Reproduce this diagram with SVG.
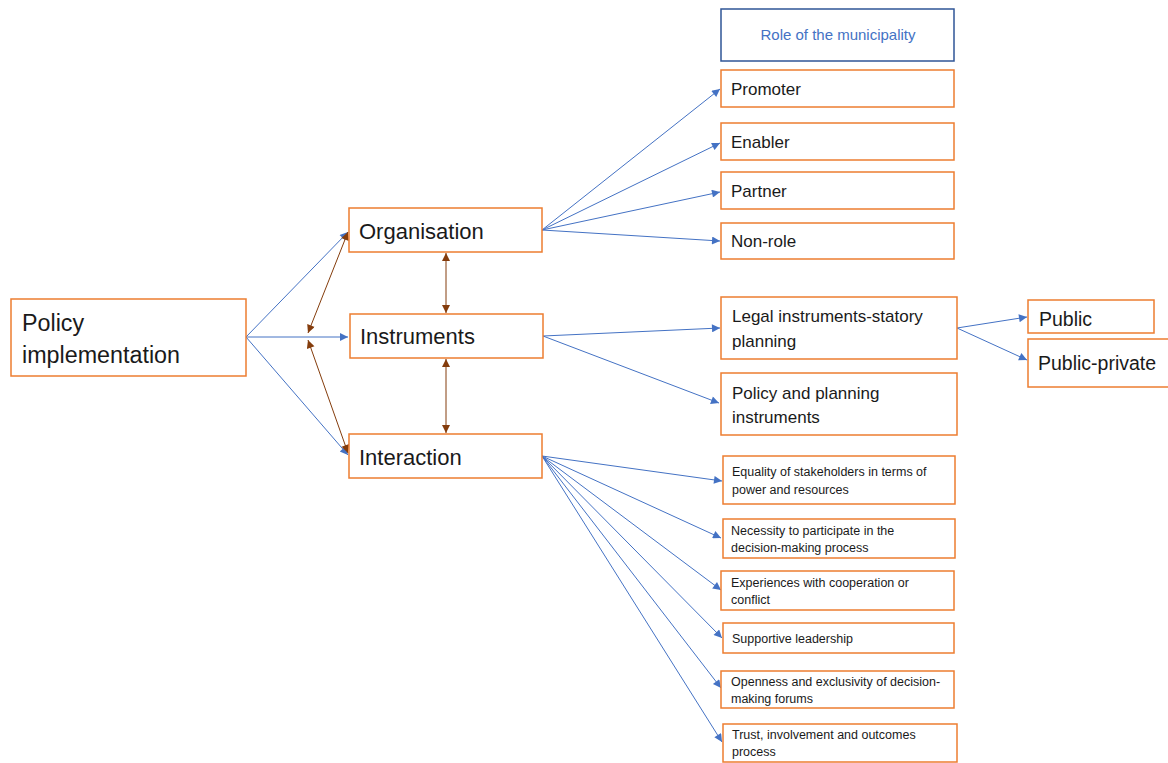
<svg xmlns="http://www.w3.org/2000/svg" width="1168" height="763" viewBox="0 0 1168 763">
<style>
.box{fill:#fff;stroke:#ED7D31;stroke-width:1.5}
.rbox{fill:#fff;stroke:#2F5597;stroke-width:1.5}
.t{font-family:"Liberation Sans",Arial,sans-serif;fill:#1a1a1a}
.L{font-size:22px}
.M{font-size:17px}
.P{font-size:19.5px}
.S{font-size:12.5px}
.blue{stroke:#4472C4;stroke-width:1;fill:none;marker-end:url(#ab)}
.brown{stroke:#843C0C;stroke-width:1;fill:none;marker-start:url(#ar);marker-end:url(#ar)}
</style>
<defs>
<marker id="ab" viewBox="0 0 10 10" refX="10" refY="5" markerWidth="10" markerHeight="8" markerUnits="userSpaceOnUse" orient="auto"><path d="M0,0 L10,5 L0,10 z" fill="#4472C4"/></marker>
<marker id="ar" viewBox="0 0 10 10" refX="10" refY="5" markerWidth="10" markerHeight="8" markerUnits="userSpaceOnUse" orient="auto-start-reverse"><path d="M0,0 L10,5 L0,10 z" fill="#843C0C"/></marker>
</defs>
<rect width="1168" height="763" fill="#fff"/>
<g id="connectors">
<line class="blue" x1="246" y1="337" x2="348" y2="232"/>
<line class="blue" x1="246" y1="337" x2="348" y2="337"/>
<line class="blue" x1="246" y1="337" x2="348" y2="455"/>
<line class="brown" x1="308" y1="333" x2="348" y2="232"/>
<line class="brown" x1="308" y1="340" x2="348" y2="453"/>
<line class="brown" x1="446" y1="253" x2="446" y2="313"/>
<line class="brown" x1="446" y1="359" x2="446" y2="433"/>
<line class="blue" x1="542" y1="230" x2="720" y2="89"/>
<line class="blue" x1="542" y1="230" x2="720" y2="143"/>
<line class="blue" x1="542" y1="230" x2="720" y2="192"/>
<line class="blue" x1="542" y1="230" x2="720" y2="241"/>
<line class="blue" x1="543" y1="336" x2="720" y2="328"/>
<line class="blue" x1="543" y1="336" x2="719" y2="403"/>
<line class="blue" x1="957" y1="328" x2="1027" y2="317"/>
<line class="blue" x1="957" y1="328" x2="1027" y2="360"/>
<line class="blue" x1="542" y1="456" x2="722" y2="481"/>
<line class="blue" x1="542" y1="456" x2="721" y2="538"/>
<line class="blue" x1="542" y1="456" x2="721" y2="590"/>
<line class="blue" x1="542" y1="456" x2="722" y2="638"/>
<line class="blue" x1="542" y1="456" x2="721" y2="688"/>
<line class="blue" x1="542" y1="456" x2="722" y2="742"/>
</g>
<g id="policy"><rect class="box" x="11" y="299" width="235" height="77"/><text class="t" style="font-size:23.3px" x="22" y="331">Policy</text><text class="t" style="font-size:23.3px" x="22" y="363">implementation</text></g>
<g id="organisation"><rect class="box" x="349" y="208" width="193" height="44"/><text class="t L" x="359" y="239">Organisation</text></g>
<g id="instruments"><rect class="box" x="350" y="314" width="193" height="44"/><text class="t L" x="360" y="344">Instruments</text></g>
<g id="interaction"><rect class="box" x="349" y="434" width="193" height="44"/><text class="t L" x="359" y="465">Interaction</text></g>
<g id="role"><rect class="rbox" x="721" y="9" width="233" height="52"/><text class="t" x="838" y="40" text-anchor="middle" style="font-size:15px;fill:#4472C4">Role of the municipality</text></g>
<g id="promoter"><rect class="box" x="721" y="70" width="233" height="37"/><text class="t M" x="731" y="95">Promoter</text></g>
<g id="enabler"><rect class="box" x="721" y="123" width="233" height="37"/><text class="t M" x="731" y="148">Enabler</text></g>
<g id="partner"><rect class="box" x="721" y="172" width="233" height="37"/><text class="t M" x="731" y="197">Partner</text></g>
<g id="nonrole"><rect class="box" x="721" y="223" width="233" height="36"/><text class="t M" x="731" y="247">Non-role</text></g>
<g id="legal"><rect class="box" x="721" y="297" width="236" height="62"/><text class="t M" x="732" y="322">Legal instruments-statory</text><text class="t M" x="732" y="347">planning</text></g>
<g id="policyplanning"><rect class="box" x="721" y="373" width="236" height="62"/><text class="t M" x="732" y="399">Policy and planning</text><text class="t M" x="732" y="423">instruments</text></g>
<g id="public"><rect class="box" x="1028" y="300" width="126" height="33"/><text class="t P" x="1039" y="326">Public</text></g>
<g id="publicprivate"><rect class="box" x="1028" y="339" width="145" height="48"/><text class="t P" x="1038" y="370">Public-private</text></g>
<g id="equality"><rect class="box" x="723" y="456" width="232" height="48"/><text class="t S" x="732" y="476">Equality of stakeholders in terms of</text><text class="t S" x="732" y="494">power and resources</text></g>
<g id="necessity"><rect class="box" x="723" y="519" width="232" height="39"/><text class="t S" x="731" y="535">Necessity to participate in the</text><text class="t S" x="731" y="552">decision-making process</text></g>
<g id="experiences"><rect class="box" x="721" y="571" width="233" height="39"/><text class="t S" x="731" y="587">Experiences with cooperation or</text><text class="t S" x="731" y="604">conflict</text></g>
<g id="supportive"><rect class="box" x="723" y="623" width="231" height="30"/><text class="t S" x="732" y="643">Supportive leadership</text></g>
<g id="openness"><rect class="box" x="721" y="671" width="233" height="37"/><text class="t S" x="731" y="686">Openness and exclusivity of decision-</text><text class="t S" x="731" y="703">making forums</text></g>
<g id="trust"><rect class="box" x="723" y="724" width="234" height="38"/><text class="t S" x="732" y="739">Trust, involvement and outcomes</text><text class="t S" x="732" y="756">process</text></g>
</svg>
